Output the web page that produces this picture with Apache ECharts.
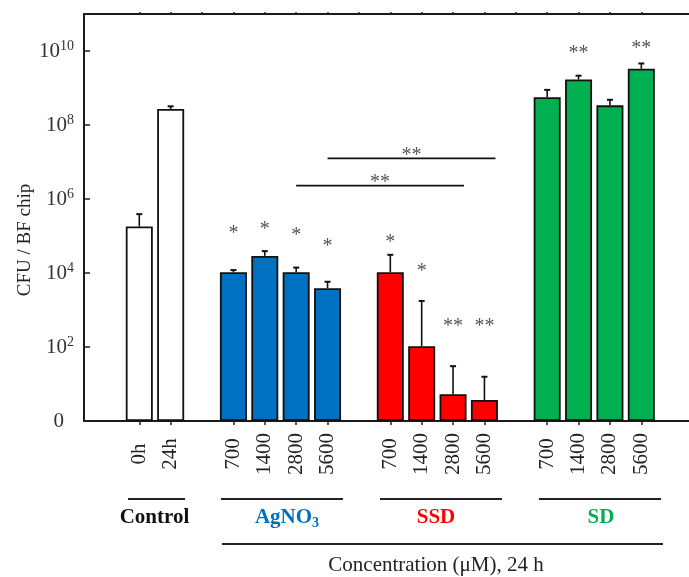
<!DOCTYPE html>
<html><head><meta charset="utf-8">
<script src="https://cdn.jsdelivr.net/npm/echarts@6/dist/echarts.min.js"></script>
<style>html,body{margin:0;padding:0;background:#fff}#c{width:689px;height:577px}</style>
</head><body><div id="c"></div>
<script>
// ---- data ----
const categories = ['0h','24h','','700','1400','2800','5600','','700','1400','2800','5600','','700','1400','2800','5600'];
const controlMeans = [1.8e5, 2.7e8];
const controlSD    = [2.1e5, 0.5e8];
const agno3Means   = [1.05e4, 2.9e4, 1.05e4, 3.9e3];
const agno3SD      = [1.5e3, 1.0e4, 3.5e3, 1.9e3];
const ssdMeans     = [1.05e4, 105, 5.3, 3.7];
const ssdSD        = [2.05e4, 1650, 25, 12];
const sdMeans      = [5.6e8, 1.7e9, 3.4e8, 3.3e9];
const sdSD         = [3.3e8, 4.5e8, 1.4e8, 1.3e9];
const agno3Stars   = ['*','*','*','*'];
const agno3StarY   = [1.45e5, 1.9e5, 1.3e5, 6.6e4];
const ssdStars     = ['*','*','**','**'];
const ssdStarY     = [8.3e4, 1.4e4, 450, 450];
const sdStars      = ['','**','','**'];
const sdStarY      = [null, 1.1e10, null, 1.45e10];
// brackets: [from category index, to category index, level, text]
const bracketFrom  = [5, 6];
const bracketTo    = [10, 11];
const bracketLevel = [2.3e6, 1.26e7];
const bracketText  = ['**','**'];
const yMin = 1, yMax = 1e11;

// ---- build ----
const FONT = "'Liberation Serif', 'Times New Roman', serif";
const groups = [
  {start:0,  means:controlMeans, sd:controlSD, color:'#ffffff', stars:[], starY:[]},
  {start:3,  means:agno3Means,   sd:agno3SD,   color:'#0070C0', stars:agno3Stars, starY:agno3StarY},
  {start:8,  means:ssdMeans,     sd:ssdSD,     color:'#FF0000', stars:ssdStars,   starY:ssdStarY},
  {start:13, means:sdMeans,      sd:sdSD,      color:'#00B050', stars:sdStars,    starY:sdStarY}
];
const barData = categories.map(() => '-');
const errData = [];
const starData = [];
groups.forEach(g => {
  g.means.forEach((m, i) => {
    const idx = g.start + i;
    barData[idx] = {value: m, itemStyle: {color: g.color}};
    errData.push([idx, m, g.sd[i]]);
    if (g.stars[i]) starData.push([idx, g.starY[i], g.stars[i]]);
  });
});
const bracketData = bracketFrom.map((f, i) => [f, bracketTo[i], bracketLevel[i], bracketText[i]]);

const chart = echarts.init(document.getElementById('c'), null, {renderer: 'canvas'});
const gridTop = 14, gridBottom = 156;
const STAR_FONT = '20px ' + FONT;
const option = {
  animation: false,
  backgroundColor: '#fff',
  grid: [
    {left: 84, right: 0, top: gridTop, bottom: gridBottom},
    {left: 123.6, right: 32, top: gridTop, bottom: gridBottom}
  ],
  xAxis: [
    {gridIndex: 0, type: 'value', min: 0, max: 1, position: 'bottom',
     axisLine: {show: true, onZero: false, lineStyle: {color: '#1a1a1a', width: 2}},
     axisTick: {show: false}, axisLabel: {show: false}, splitLine: {show: false}},
    {gridIndex: 0, type: 'value', min: 0, max: 1, position: 'top',
     axisLine: {show: true, onZero: false, lineStyle: {color: '#1a1a1a', width: 2}},
     axisTick: {show: false}, axisLabel: {show: false}, splitLine: {show: false}},
    {gridIndex: 1, type: 'category', data: categories, position: 'bottom',
     axisLine: {show: false, onZero: false},
     axisTick: {show: true, alignWithLabel: true, length: 4, interval: (i, v) => v !== '',
                lineStyle: {color: '#222', width: 1.5}},
     axisLabel: {interval: 0, rotate: 90, align: 'center', verticalAlign: 'middle', margin: 33,
                 fontFamily: FONT, fontSize: 21, color: '#222'}},
    {gridIndex: 1, type: 'category', data: categories, position: 'top',
     axisLine: {show: false, onZero: false},
     axisTick: {show: true, alignWithLabel: true, length: 2, interval: 0,
                lineStyle: {color: '#222', width: 1.5}},
     axisLabel: {show: false}}
  ],
  yAxis: [
    {gridIndex: 0, type: 'log', logBase: 10, min: yMin, max: yMax, interval: 2,
     axisLine: {show: true, onZero: false, lineStyle: {color: '#1a1a1a', width: 2}},
     axisTick: {show: true, inside: true, length: 6, lineStyle: {color: '#222', width: 1.5}},
     splitLine: {show: false}, minorTick: {show: false},
     axisLabel: {margin: 10, color: '#333',
       formatter: v => {
         const e = Math.round(Math.log10(v));
         if (e === 0) return '{z|0}';
         if (e % 2 !== 0) return '';
         return '{b|10}{s|' + e + '}';
       },
       rich: {
         b: {fontFamily: FONT, fontSize: 21, lineHeight: 24, color: '#333'},
         s: {fontFamily: FONT, fontSize: 14, lineHeight: 14, verticalAlign: 'top', color: '#333'},
         z: {fontFamily: FONT, fontSize: 21, lineHeight: 24, color: '#333', padding: [0, 10, 0, 0]}
       }}},
    {gridIndex: 1, type: 'log', logBase: 10, min: yMin, max: yMax, show: false, splitLine: {show: false}}
  ],
  series: [
    {type: 'bar', xAxisIndex: 2, yAxisIndex: 1, data: barData, barWidth: 27,
     itemStyle: {borderColor: '#111', borderWidth: 1.8}, z: 2},
    {type: 'custom', xAxisIndex: 2, yAxisIndex: 1, data: errData, encode: {x: 0, y: 1}, z: 3,
     renderItem: (params, api) => {
       const x = api.value(0), m = api.value(1), e = api.value(2);
       const p0 = api.coord([x, m]), p1 = api.coord([x, m + e]);
       const cap = 3;
       return {type: 'group', children: [
         {type: 'line', shape: {x1: p0[0], y1: p0[1], x2: p1[0], y2: p1[1]}, style: {stroke: '#111', lineWidth: 1.6}},
         {type: 'line', shape: {x1: p1[0] - cap, y1: p1[1], x2: p1[0] + cap, y2: p1[1]}, style: {stroke: '#111', lineWidth: 2}}
       ]};
     }},
    {type: 'custom', xAxisIndex: 2, yAxisIndex: 1, data: starData, encode: {x: 0, y: 1}, z: 4,
     renderItem: (params, api) => {
       const p = api.coord([api.value(0), api.value(1)]);
       return {type: 'text', x: p[0], y: p[1] + 4,
               style: {text: starData[params.dataIndex][2], fill: '#555', font: STAR_FONT,
                       align: 'center', verticalAlign: 'middle'}};
     }},
    {type: 'custom', xAxisIndex: 2, yAxisIndex: 1, data: bracketData, encode: {x: [0, 1], y: 2}, z: 4,
     renderItem: (params, api) => {
       const a = api.coord([api.value(0), api.value(2)]);
       const b = api.coord([api.value(1), api.value(2)]);
       const band = api.size([1, 0])[0];
       const xr = b[0] + band * 0.35;
       return {type: 'group', children: [
         {type: 'line', shape: {x1: a[0], y1: a[1], x2: xr, y2: a[1]}, style: {stroke: '#111', lineWidth: 1.8}},
         {type: 'text', x: (a[0] + xr) / 2, y: a[1] - 3,
          style: {text: bracketData[params.dataIndex][3], fill: '#555', font: STAR_FONT,
                  align: 'center', verticalAlign: 'middle'}}
       ]};
     }}
  ],
  graphic: [
    {type: 'text', x: 25, y: 240, rotation: Math.PI / 2,
     style: {text: 'CFU / BF chip', font: '19px ' + FONT, fill: '#222', align: 'center', verticalAlign: 'middle'}},
    {type: 'line', shape: {x1: 128, y1: 499, x2: 185, y2: 499}, style: {stroke: '#222', lineWidth: 2}},
    {type: 'line', shape: {x1: 221, y1: 499, x2: 343, y2: 499}, style: {stroke: '#222', lineWidth: 2}},
    {type: 'line', shape: {x1: 380, y1: 499, x2: 502, y2: 499}, style: {stroke: '#222', lineWidth: 2}},
    {type: 'line', shape: {x1: 539, y1: 499, x2: 661, y2: 499}, style: {stroke: '#222', lineWidth: 2}},
    {type: 'line', shape: {x1: 222, y1: 544, x2: 663, y2: 544}, style: {stroke: '#222', lineWidth: 2}},
    {type: 'text', x: 154.5, y: 518,
     style: {text: 'Control', font: 'bold 21px ' + FONT, fill: '#111', align: 'center', verticalAlign: 'middle'}},
    {type: 'text', x: 287, y: 518,
     style: {text: '{a|AgNO}{b|3}', align: 'center', verticalAlign: 'middle',
             rich: {a: {font: 'bold 21px ' + FONT, fill: '#0070C0', lineHeight: 24},
                    b: {font: 'bold 14px ' + FONT, fill: '#0070C0', lineHeight: 14, verticalAlign: 'bottom'}}}},
    {type: 'text', x: 436, y: 518,
     style: {text: 'SSD', font: 'bold 21px ' + FONT, fill: '#FF0000', align: 'center', verticalAlign: 'middle'}},
    {type: 'text', x: 601, y: 518,
     style: {text: 'SD', font: 'bold 21px ' + FONT, fill: '#00B050', align: 'center', verticalAlign: 'middle'}},
    {type: 'text', x: 436, y: 565,
     style: {text: 'Concentration (μM), 24 h', font: '21px ' + FONT, fill: '#222', align: 'center', verticalAlign: 'middle'}}
  ]
};
chart.setOption(option);
</script>
</body></html>
